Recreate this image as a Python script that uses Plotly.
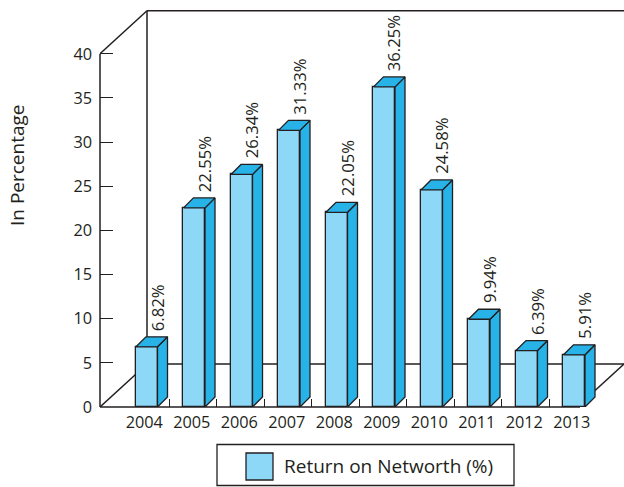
import plotly.graph_objects as go

years = [2004, 2005, 2006, 2007, 2008, 2009, 2010, 2011, 2012, 2013]
returns = [6.82, 22.55, 26.34, 31.33, 22.05, 36.25, 24.58, 9.94, 6.39, 5.91]
value_ticks = [0, 5, 10, 15, 20, 25, 30, 35, 40]
series_name = "Return on Networth (%)"
axis_title = "In Percentage"

INK = "#231f20"
FRONT = "#8dd7f7"
SIDE = "#27b3e8"
FONT = "Open Sans"

WIDTH, HEIGHT = 624, 487
LEFT, BOTTOM = 100, 80
PX_X = 47.5      # pixels per year
PX_Y = 8.83      # pixels per percentage point
X_MIN = 2004 - 44.3 / PX_X
X_MAX = X_MIN + (WIDTH - LEFT) / PX_X
Y_MAX = (HEIGHT - BOTTOM) / PX_Y

BAR_OFFSET = -0.175
BAR_WIDTH = 0.453
BAR_DX = 10 / PX_X
BAR_DY = 10 / PX_Y
WALL_DX = 47 / PX_X
WALL_DY = 43 / PX_Y
AXIS_TOP = value_ticks[-1]


def px(x):
    return (x - LEFT) / (WIDTH - LEFT)


def py(y):
    return (HEIGHT - BOTTOM - y) / (HEIGHT - BOTTOM)


fig = go.Figure()

# Front faces of the bars
fig.add_trace(go.Bar(
    x=years, y=returns, width=BAR_WIDTH, offset=BAR_OFFSET,
    marker=dict(color=FRONT, line=dict(color=INK, width=1.3)),
    showlegend=False, hoverinfo="skip",
))

# Side and top faces give each bar its depth
for year, value in zip(years, returns):
    x0 = year + BAR_OFFSET
    x1 = x0 + BAR_WIDTH
    fig.add_trace(go.Scatter(
        x=[x1, x1 + BAR_DX, x1 + BAR_DX, x1, x1],
        y=[0, BAR_DY, value + BAR_DY, value, 0],
        mode="lines", fill="toself", fillcolor=SIDE,
        line=dict(color=INK, width=1.3), showlegend=False, hoverinfo="skip",
    ))
    fig.add_trace(go.Scatter(
        x=[x0, x0 + BAR_DX, x1 + BAR_DX, x1, x0],
        y=[value, value + BAR_DY, value + BAR_DY, value, value],
        mode="lines", fill="toself", fillcolor=SIDE,
        line=dict(color=INK, width=1.3), showlegend=False, hoverinfo="skip",
    ))

annotations = [
    dict(
        x=year + BAR_OFFSET + 0.44, y=value, xref="x", yref="y",
        text=f"{value:.2f}%", textangle=-90, showarrow=False,
        xanchor="center", yanchor="bottom", yshift=14,
        font=dict(family=FONT, size=16.7, color=INK),
    )
    for year, value in zip(years, returns)
]
annotations.append(dict(
    x=px(17), y=py(165), xref="paper", yref="paper", text=axis_title,
    textangle=-90, showarrow=False, xanchor="center", yanchor="middle",
    font=dict(family=FONT, size=19, color=INK),
))
annotations.append(dict(
    x=px(282), y=py(466), xref="paper", yref="paper", text=series_name,
    showarrow=False, xanchor="left", yanchor="middle",
    font=dict(family=FONT, size=19, color=INK),
))

wall = dict(type="line", xref="x", yref="y", layer="below",
            line=dict(color=INK, width=1.5))
x_wall = X_MIN + WALL_DX
shapes = [
    # Value axis, floor front edge
    dict(wall, xref="paper", x0=0, x1=0, y0=0, y1=AXIS_TOP),
    dict(wall, yref="paper", x0=X_MIN, x1=2004 + 435.7 / PX_X, y0=0, y1=0),
    # Back wall
    dict(wall, x0=X_MIN, x1=x_wall, y0=AXIS_TOP, y1=AXIS_TOP + WALL_DY),
    dict(wall, x0=x_wall, x1=X_MAX, y0=AXIS_TOP + WALL_DY, y1=AXIS_TOP + WALL_DY),
    dict(wall, x0=x_wall, x1=x_wall, y0=WALL_DY, y1=AXIS_TOP + WALL_DY),
    # Floor
    dict(wall, x0=X_MIN, x1=x_wall, y0=0, y1=WALL_DY),
    dict(wall, x0=x_wall, x1=X_MAX, y0=WALL_DY, y1=WALL_DY),
    dict(wall, x0=X_MAX, x1=X_MAX - WALL_DX, y0=WALL_DY, y1=0),
    # Legend frame and swatch
    dict(type="rect", xref="paper", yref="paper", x0=px(217), x1=px(514),
         y0=py(444.5), y1=py(485.5), line=dict(color=INK, width=1.3)),
    dict(type="rect", xref="paper", yref="paper", x0=px(246), x1=px(273),
         y0=py(453), y1=py(480), fillcolor=FRONT, line=dict(color=INK, width=1.3)),
]

fig.update_layout(
    width=WIDTH, height=HEIGHT,
    margin=dict(l=LEFT, r=0, t=0, b=BOTTOM, pad=0),
    paper_bgcolor="white", plot_bgcolor="white",
    showlegend=False, bargap=0,
    font=dict(family=FONT, size=16.3, color=INK),
    shapes=shapes, annotations=annotations,
    xaxis=dict(
        range=[X_MIN, X_MAX], tickvals=years, ticktext=[str(y) for y in years],
        ticks="", showgrid=False, zeroline=False, showline=False,
        ticklabelstandoff=4,
        minor=dict(tickvals=[y + 0.52 for y in years[:-1]], ticks="inside",
                   ticklen=8, tickwidth=1.3, tickcolor=INK, showgrid=False),
    ),
    yaxis=dict(
        range=[0, Y_MAX], tickvals=value_ticks, ticks="inside", ticklen=13,
        tickwidth=1.3, tickcolor=INK, showgrid=False, zeroline=False,
        showline=False, ticklabelstandoff=7,
    ),
)

fig.write_html("out.html", config=dict(displayModeBar=False))
